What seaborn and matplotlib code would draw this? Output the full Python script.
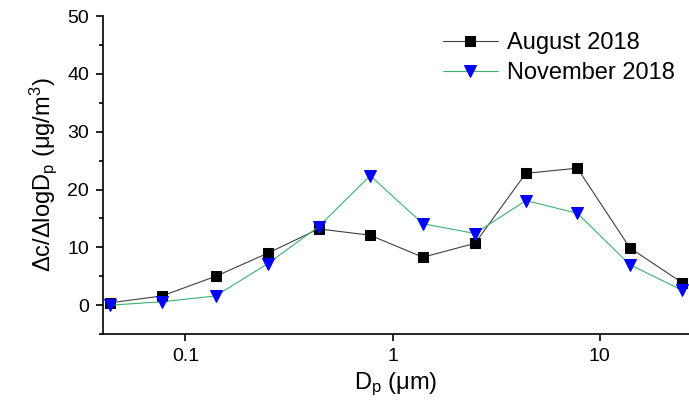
import matplotlib
matplotlib.use("Agg")
import matplotlib.pyplot as plt
import seaborn as sns
import pandas as pd
from matplotlib.ticker import FixedLocator, NullLocator, MultipleLocator

dp = [0.043, 0.077, 0.14, 0.25, 0.44, 0.78, 1.4, 2.5, 4.4, 7.8, 14, 25]
august = [0.4, 1.6, 5.0, 9.0, 13.2, 12.1, 8.3, 10.7, 22.8, 23.7, 9.9, 3.9]
november = [0.0, 0.6, 1.6, 7.2, 13.6, 22.4, 14.1, 12.4, 18.1, 15.9, 7.0, 2.6]
series = ["August 2018", "November 2018"]
xticks = [0.1, 1, 10]
xticklabels = ["0.1", "1", "10"]

sns.set_style("ticks")
plt.rcParams['font.family'] = ['Liberation Sans', 'DejaVu Sans']
plt.rcParams['mathtext.fontset'] = 'custom'
plt.rcParams['mathtext.rm'] = 'Liberation Sans'
plt.rcParams['mathtext.it'] = 'Liberation Sans'
plt.rcParams['mathtext.default'] = 'regular'
plt.rcParams['text.color'] = 'black'
plt.rcParams['axes.labelcolor'] = 'black'
plt.rcParams['xtick.color'] = 'black'
plt.rcParams['ytick.color'] = 'black'

df = pd.DataFrame({
    "Dp": dp * 2,
    "val": august + november,
    "series": [series[0]] * len(dp) + [series[1]] * len(dp),
})

fig = plt.figure(figsize=(6.89, 4.12), dpi=100)
ax = fig.add_axes([0.1495, 0.189, 0.8505, 0.772])

styles = {
    series[0]: dict(color="#404040", lw=0.8, marker="s", ms=7, mfc="black", mec="black"),
    series[1]: dict(color="#3cb371", lw=0.8, marker="v", ms=8.5, mfc="blue", mec="blue"),
}
for s in series:
    st = styles[s]
    sub = df[df.series == s]
    sns.lineplot(data=sub, x="Dp", y="val", ax=ax, color=st["color"], lw=st["lw"],
                 marker=st["marker"], markersize=st["ms"], markerfacecolor=st["mfc"],
                 markeredgecolor=st["mec"], label=s)

ax.set_xscale("log")
ax.set_xlim(0.04, 27)
ax.set_ylim(-5, 50)
ax.xaxis.set_major_locator(FixedLocator(xticks))
ax.set_xticklabels(xticklabels)
ax.xaxis.set_minor_locator(NullLocator())
ax.yaxis.set_major_locator(MultipleLocator(10))
ax.yaxis.set_minor_locator(MultipleLocator(5))
ax.tick_params(axis="both", which="major", length=5, width=1.2, labelsize=14,
               direction="out", color="black", labelcolor="black", pad=5)
ax.tick_params(axis="y", which="minor", length=3, width=1.2, direction="out", color="black")
for sp in ["top", "right"]:
    ax.spines[sp].set_visible(False)
for sp in ["left", "bottom"]:
    ax.spines[sp].set_linewidth(1.2)
    ax.spines[sp].set_color("black")

ax.set_xlabel(r"D$_p$ ($\mu$m)", fontsize=17, color="black", labelpad=4)
ax.set_ylabel(r"$\Delta$c/$\Delta$logD$_p$ ($\mu$g/m$^3$)", fontsize=17, color="black", labelpad=6)

leg = ax.legend(loc="upper right", frameon=False, fontsize=17, handlelength=2.3,
                handletextpad=0.4, bbox_to_anchor=(1.0, 0.995), borderaxespad=0.2,
                labelspacing=0.35)
for t in leg.get_texts():
    t.set_color("black")

fig.savefig("out.png", dpi=100)
